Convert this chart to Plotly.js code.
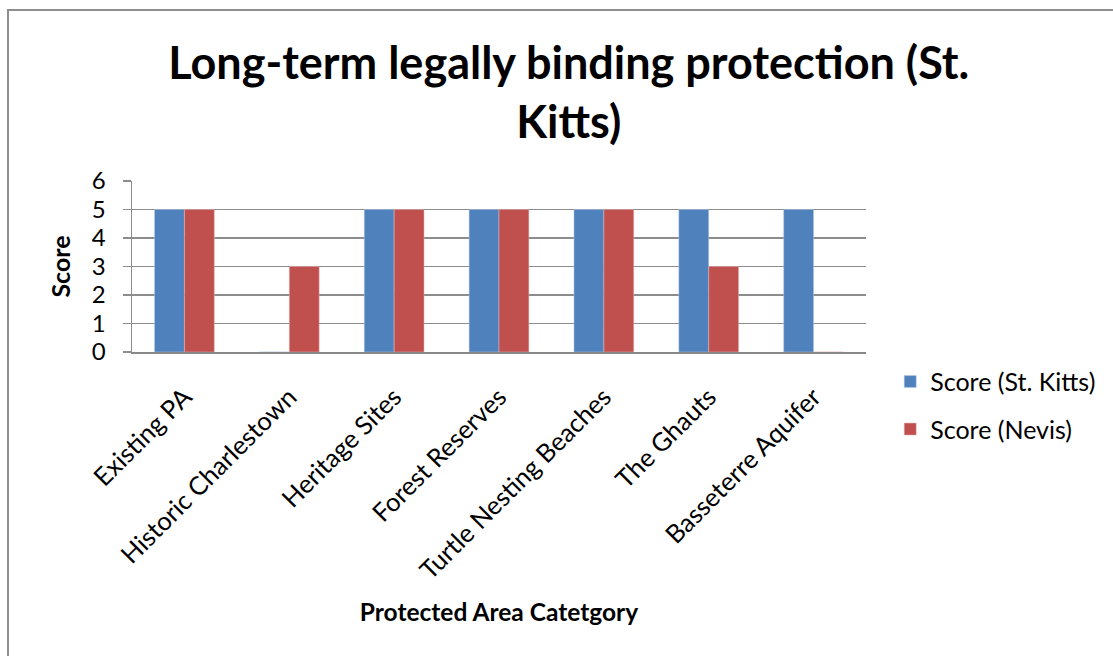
<!DOCTYPE html>
<html>
<head>
<meta charset="utf-8">
<script src="https://cdn.plot.ly/plotly-3.0.1.min.js"></script>
<style>
html,body{margin:0;padding:0;background:#fff;overflow:hidden;}
#chart{width:1113px;height:656px;position:absolute;left:0;top:0;}
#frame{position:absolute;left:7px;top:9px;width:1200px;height:700px;border-left:2px solid #8e8e8e;border-top:2px solid #8e8e8e;pointer-events:none;}
</style>
</head>
<body>
<div id="chart"></div>
<div id="frame"></div>
<script>
const categories = ["Existing PA","Historic Charlestown","Heritage Sites","Forest Reserves","Turtle Nesting Beaches","The Ghauts","Basseterre Aquifer"];
const stKitts = [5, 0, 5, 5, 5, 5, 5];
const nevis = [5, 3, 5, 5, 5, 3, 0];
const seriesNames = ["Score (St. Kitts)", "Score (Nevis)"];
const yTicks = [0,1,2,3,4,5,6];

const FONT = "Lato, 'Open Sans', sans-serif";

const traces = [
  {type:"bar", name:seriesNames[0], legendgroup:"a", x:categories, y:stKitts, marker:{color:"#4f81bd", line:{color:"#b9cde5", width:0.5}}},
  {type:"bar", name:seriesNames[1], legendgroup:"b", x:categories, y:nevis, marker:{color:"#c0504d", line:{color:"#e6b9b8", width:0.5}}}
];

const layout = {
  width:1113, height:656,
  paper_bgcolor:"#fff", plot_bgcolor:"#fff",
  margin:{l:132, r:244, t:181, b:304},
  font:{family:FONT, color:"#000"},
  title:{text:"Long-term legally binding protection (St.<br>Kitts)", font:{family:FONT, size:45, weight:"bold", color:"#000"}, x:0.511, xanchor:"center", yref:"container", y:0.879, yanchor:"middle"},
  barmode:"group", bargap:0.43, bargroupgap:0,
  showlegend:true,
  legend:{x:1.033, xanchor:"left", y:-0.04, yanchor:"top", font:{family:FONT, size:25}, tracegroupgap:12, itemwidth:30, bgcolor:"rgba(0,0,0,0)"},
  xaxis:{
    type:"category", tickangle:-45, tickfont:{family:FONT, size:25.5}, showline:true, linecolor:"#888", linewidth:2,
    ticks:"", showgrid:false, ticklabelstandoff:18,
    title:{text:"Protected Area Catetgory", font:{family:FONT, size:24.5, weight:"bold"}, standoff:20}
  },
  yaxis:{
    range:[0,6], tickvals:yTicks, ticktext:yTicks.map(String), tickfont:{family:FONT, size:24},
    showgrid:true, gridcolor:"#8c8c8c", gridwidth:1.5, zeroline:false,
    showline:true, linecolor:"#8c8c8c", linewidth:1.5, ticks:"outside", ticklen:8, tickcolor:"#8c8c8c", tickwidth:1.5,
    ticklabelstandoff:12,
    title:{text:"Score", font:{family:FONT, size:25, weight:"bold"}, standoff:14}
  }
};

Plotly.newPlot("chart", traces, layout, {displayModeBar:false, staticPlot:true});
</script>
</body>
</html>
